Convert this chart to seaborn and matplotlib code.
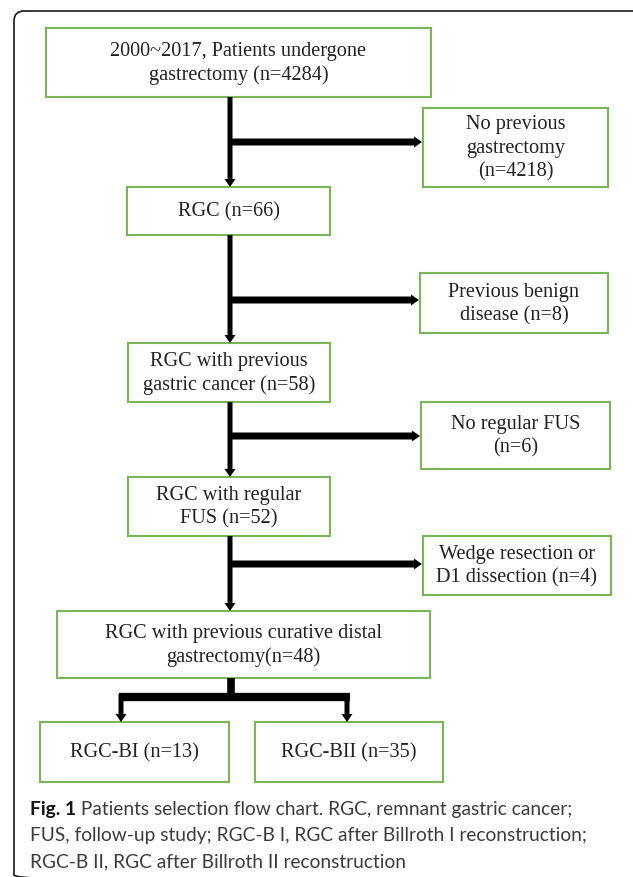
import matplotlib
matplotlib.use("Agg")
import matplotlib.pyplot as plt
from matplotlib.patches import Rectangle, FancyBboxPatch
import seaborn as sns

# flow chart content
main_labels = [
    "2000~2017, Patients undergone\ngastrectomy (n={})",
    "RGC (n={})",
    "RGC with previous\ngastric cancer (n={})",
    "RGC with regular\nFUS (n={})",
    "RGC with previous curative distal\ngastrectomy(n={})",
]
main_n = [4284, 66, 58, 52, 48]

excluded_labels = [
    "No previous\ngastrectomy\n(n={})",
    "Previous benign\ndisease (n={})",
    "No regular FUS\n(n={})",
    "Wedge resection or\nD1 dissection (n={})",
]
excluded_n = [4218, 8, 6, 4]

subgroup_labels = ["RGC-BI (n={})", "RGC-BII (n={})"]
subgroup_n = [13, 35]

caption_bold = "Fig. 1"
caption_lines = [
    " Patients selection flow chart. RGC, remnant gastric cancer;",
    "FUS, follow-up study; RGC-B I, RGC after Billroth I reconstruction;",
    "RGC-B II, RGC after Billroth II reconstruction",
]

# layout in pixels (x0, y0, x1, y1), y grows downward
main_boxes = [(46, 28, 431, 97), (127, 187, 330, 235), (128, 343, 330, 402),
              (128, 477, 330, 536), (57, 611, 430, 678)]
side_boxes = [(423, 108, 608, 187), (420, 273, 608, 333),
              (421, 402, 610, 469), (423, 536, 611, 595)]
sub_boxes = [(40, 722, 229, 782), (255, 722, 443, 782)]
branch_y = [142, 300, 436, 564]
trunk_x = 230
split_y = 697
split_x = [121, 347]

GREEN = "#78b657"
TEXT = "#222222"

sns.set_theme(style="white")
plt.rcParams["font.family"] = ["Liberation Serif", "DejaVu Serif"]

fig = plt.figure(figsize=(6.33, 8.77), dpi=100)
ax = fig.add_axes([0, 0, 1, 1])
ax.set_xlim(0, 633)
ax.set_ylim(877, 0)
ax.axis("off")

# outer rounded frame
ax.add_patch(FancyBboxPatch((14, 11), 640, 874, boxstyle="round,pad=0,rounding_size=10",
                            fill=False, ec="#1a1a1a", lw=1.2))


def draw_box(box, label):
    x0, y0, x1, y1 = box
    ax.add_patch(Rectangle((x0, y0), x1 - x0, y1 - y0, fill=False, ec=GREEN, lw=1.5))
    ax.text((x0 + x1) / 2, (y0 + y1) / 2 + 1, label, ha="center", va="center",
            fontsize=14.6, color=TEXT, linespacing=1.33)


def arrow(x, y, dx, dy, width):
    ax.arrow(x, y, dx, dy, width=width, head_width=11, head_length=8,
             length_includes_head=True, color="black", lw=0)


for box, lab, n in zip(main_boxes, main_labels, main_n):
    draw_box(box, lab.format(n))
for box, lab, n in zip(side_boxes, excluded_labels, excluded_n):
    draw_box(box, lab.format(n))
for box, lab, n in zip(sub_boxes, subgroup_labels, subgroup_n):
    draw_box(box, lab.format(n))

# trunk arrows between main steps, with side branches to exclusions
for i in range(len(main_boxes) - 1):
    y_start = main_boxes[i][3]
    y_end = main_boxes[i + 1][1]
    arrow(trunk_x, y_start, 0, y_end - y_start, 5)
    arrow(trunk_x, branch_y[i], side_boxes[i][0] - trunk_x - 1, 0, 7)

# split into the two reconstruction groups
ax.plot([trunk_x + 1, trunk_x + 1], [main_boxes[-1][3], split_y], color="black",
        lw=5.5, solid_capstyle="butt")
ax.plot([split_x[0] - 2.5, split_x[1] + 2.5], [split_y, split_y], color="black",
        lw=6, solid_capstyle="butt")
for sx, box in zip(split_x, sub_boxes):
    arrow(sx, split_y - 3, 0, box[1] - split_y + 3, 5)

# caption
cap_font = ["Lato", "DejaVu Sans"]
cap_size = 13.8
t = ax.text(30, 810, caption_bold, fontsize=cap_size, fontweight="bold", color="#111111",
            family=cap_font, va="center")
ax.annotate(caption_lines[0], xy=(1, 0), xycoords=t, va="bottom", ha="left",
            fontsize=cap_size, color="#3c3c3c", family=cap_font)
for line, y in zip(caption_lines[1:], [836, 862]):
    ax.text(30, y, line, fontsize=cap_size, color="#3c3c3c", family=cap_font, va="center")

fig.savefig("out.png", dpi=100, facecolor="white")
